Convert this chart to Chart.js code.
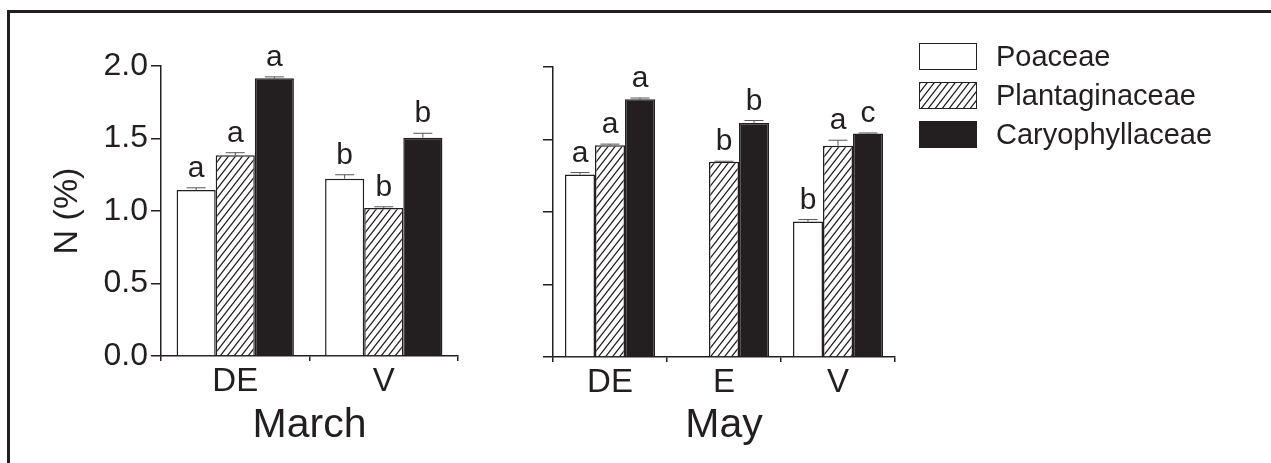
<!DOCTYPE html>
<html>
<head>
<meta charset="utf-8">
<title>N (%) by family</title>
<script src="https://cdn.jsdelivr.net/npm/chart.js@4.4.1/dist/chart.umd.min.js"></script>
<style>
  body { margin: 0; background: #fff; width: 1271px; height: 463px; overflow: hidden; position: relative;
         font-family: "Liberation Sans", Arial, sans-serif; }
  #frame { position: absolute; left: 7px; top: 10px; width: 1300px; height: 500px;
           border-top: 3px solid #231f20; border-left: 3px solid #231f20; }
  #marchWrap { position: absolute; left: 0; top: 0; width: 470px; height: 463px; }
  #mayWrap { position: absolute; left: 470px; top: 0; width: 440px; height: 463px; }
  #legend { position: absolute; left: 919px; top: 43px; }
  .legend-row { display: flex; align-items: center; height: 27px; margin-bottom: 12px; }
  .legend-row canvas { width: 56px; height: 25px; border: 1px solid #231f20; display: block; }
  .legend-row span { margin-left: 19px; font-size: 29px; color: #231f20; }
</style>
</head>
<body>
<div id="frame"></div>
<div id="marchWrap"><canvas id="marchChart"></canvas></div>
<div id="mayWrap"><canvas id="mayChart"></canvas></div>
<div id="legend"></div>

<script>
// ---- data ----
const familyNames = ["Poaceae", "Plantaginaceae", "Caryophyllaceae"];

const marchSites = ["DE", "V"];
const marchPoaceae = [1.145, 1.223];
const marchPlantaginaceae = [1.384, 1.021];
const marchCaryophyllaceae = [1.915, 1.506];
const marchPoaceaeErr = [0.015, 0.027];
const marchPlantaginaceaeErr = [0.018, 0.008];
const marchCaryophyllaceaeErr = [0.010, 0.030];
const marchPoaceaeSig = ["a", "b"];
const marchPlantaginaceaeSig = ["a", "b"];
const marchCaryophyllaceaeSig = ["a", "b"];

const maySites = ["DE", "E", "V"];
const mayPoaceae = [1.259, null, 0.934];
const mayPlantaginaceae = [1.461, 1.347, 1.457];
const mayCaryophyllaceae = [1.777, 1.613, 1.542];
const mayPoaceaeErr = [0.013, null, 0.014];
const mayPlantaginaceaeErr = [0.007, 0.003, 0.038];
const mayCaryophyllaceaeErr = [0.009, 0.018, 0.003];
const mayPoaceaeSig = ["a", null, "b"];
const mayPlantaginaceaeSig = ["a", "b", "a"];
const mayCaryophyllaceaeSig = ["a", "b", "c"];

const yTicks = [0, 0.5, 1.0, 1.5, 2.0];

const INK = "#231f20";
const FONT = "'Liberation Sans', Arial, sans-serif";

// diagonal "/" hatching used for Plantaginaceae
function makeHatch(ctx) {
    const w = 7, h = 9;
    const c = document.createElement("canvas");
    c.width = w; c.height = h;
    const g = c.getContext("2d");
    g.fillStyle = "#fff";
    g.fillRect(0, 0, w, h);
    g.strokeStyle = INK;
    g.lineWidth = 1.3;
    g.beginPath();
    for (let k = -1; k <= 1; k++) { // line x/w + y/h = 1 + k, extended past the tile
        g.moveTo(-w, h * (2 + k));
        g.lineTo(2 * w, h * (k - 1));
    }
    g.stroke();
    return ctx.createPattern(c, "repeat");
}

const tmpCtx = document.createElement("canvas").getContext("2d");
const familyFill = ["#ffffff", makeHatch(tmpCtx), INK];

function makeDatasets(values, errors, letters) {
    return familyNames.map((name, i) => ({
        label: name,
        data: values[i],
        errors: errors[i],
        letters: letters[i],
        backgroundColor: familyFill[i],
        borderColor: INK,
        borderWidth: 1.5,
        categoryPercentage: 0.79,
        barPercentage: 1.0
    }));
}

// Draws upward error bars and the significance letters above each bar
const errorLetters = {
    id: "errorLetters",
    afterDatasetsDraw(chart) {
        const ctx = chart.ctx;
        const yScale = chart.scales.y;
        ctx.save();
        chart.data.datasets.forEach((ds, i) => {
            const meta = chart.getDatasetMeta(i);
            meta.data.forEach((bar, j) => {
                const v = ds.data[j];
                if (v === null || v === undefined) return;
                const err = ds.errors[j] || 0;
                const yTop = yScale.getPixelForValue(v + err);
                ctx.strokeStyle = "#555";
                ctx.lineWidth = 1;
                ctx.beginPath();
                ctx.moveTo(bar.x, bar.y);
                ctx.lineTo(bar.x, yTop);
                ctx.moveTo(bar.x - 9.5, yTop);
                ctx.lineTo(bar.x + 9.5, yTop);
                ctx.stroke();
                if (ds.letters[j]) {
                    ctx.fillStyle = INK;
                    ctx.font = "30px " + FONT;
                    ctx.textAlign = "center";
                    ctx.textBaseline = "alphabetic";
                    ctx.fillText(ds.letters[j], bar.x, yTop - 11);
                }
            });
        });
        ctx.restore();
    }
};

function buildChart(canvasId, sites, datasets, opts) {
    return new Chart(document.getElementById(canvasId), {
        type: "bar",
        data: { labels: sites, datasets: datasets },
        plugins: [errorLetters],
        options: {
            responsive: true,
            maintainAspectRatio: false,
            animation: false,
            layout: { padding: opts.padding },
            plugins: { legend: { display: false }, tooltip: { enabled: false } },
            scales: {
                x: {
                    offset: true,
                    grid: { offset: true, drawOnChartArea: false, tickLength: 5, color: INK, lineWidth: 1.5 },
                    border: { display: true, color: INK, width: 1.5 },
                    ticks: { color: INK, font: { family: FONT, size: 33 }, padding: 1 },
                    title: { display: true, text: opts.month, color: INK,
                             font: { family: FONT, size: 41 }, padding: { top: 0, bottom: 13 } },
                    afterFit: s => { s.height = opts.xHeight; }
                },
                y: {
                    min: 0, max: 2,
                    afterBuildTicks: s => { s.ticks = yTicks.map(v => ({ value: v })); },
                    grid: { drawOnChartArea: false, tickLength: 10, color: INK, lineWidth: 1.5 },
                    border: { display: true, color: INK, width: 1.5 },
                    ticks: {
                        color: INK, font: { family: FONT, size: 32 }, padding: 3,
                        callback: v => opts.showY ? Number(v).toFixed(1) : ""
                    },
                    title: { display: opts.showY, text: "N (%)", color: INK,
                             font: { family: FONT, size: 34 }, padding: { top: 47, bottom: 0 } },
                    afterFit: s => { s.width = opts.yWidth; }
                }
            }
        }
    });
}

const marchChart = buildChart("marchChart", marchSites,
    makeDatasets([marchPoaceae, marchPlantaginaceae, marchCaryophyllaceae],
                 [marchPoaceaeErr, marchPlantaginaceaeErr, marchCaryophyllaceaeErr],
                 [marchPoaceaeSig, marchPlantaginaceaeSig, marchCaryophyllaceaeSig]),
    { month: "March", showY: true, yWidth: 161, xHeight: 107,
      padding: { top: 66, right: 12, bottom: 0, left: 0 } });

const mayChart = buildChart("mayChart", maySites,
    makeDatasets([mayPoaceae, mayPlantaginaceae, mayCaryophyllaceae],
                 [mayPoaceaeErr, mayPlantaginaceaeErr, mayCaryophyllaceaeErr],
                 [mayPoaceaeSig, mayPlantaginaceaeSig, mayCaryophyllaceaeSig]),
    { month: "May", showY: false, yWidth: 83, xHeight: 106,
      padding: { top: 67, right: 15, bottom: 0, left: 0 } });

// HTML legend built from the datasets
const legendBox = document.getElementById("legend");
mayChart.data.datasets.forEach((ds, i) => {
    const row = document.createElement("div");
    row.className = "legend-row";
    const sw = document.createElement("canvas");
    sw.width = 56; sw.height = 25;
    const sctx = sw.getContext("2d");
    sctx.fillStyle = i === 1 ? makeHatch(sctx) : familyFill[i];
    sctx.fillRect(0, 0, 56, 25);
    const txt = document.createElement("span");
    txt.textContent = ds.label;
    row.appendChild(sw);
    row.appendChild(txt);
    legendBox.appendChild(row);
});
</script>
</body>
</html>
